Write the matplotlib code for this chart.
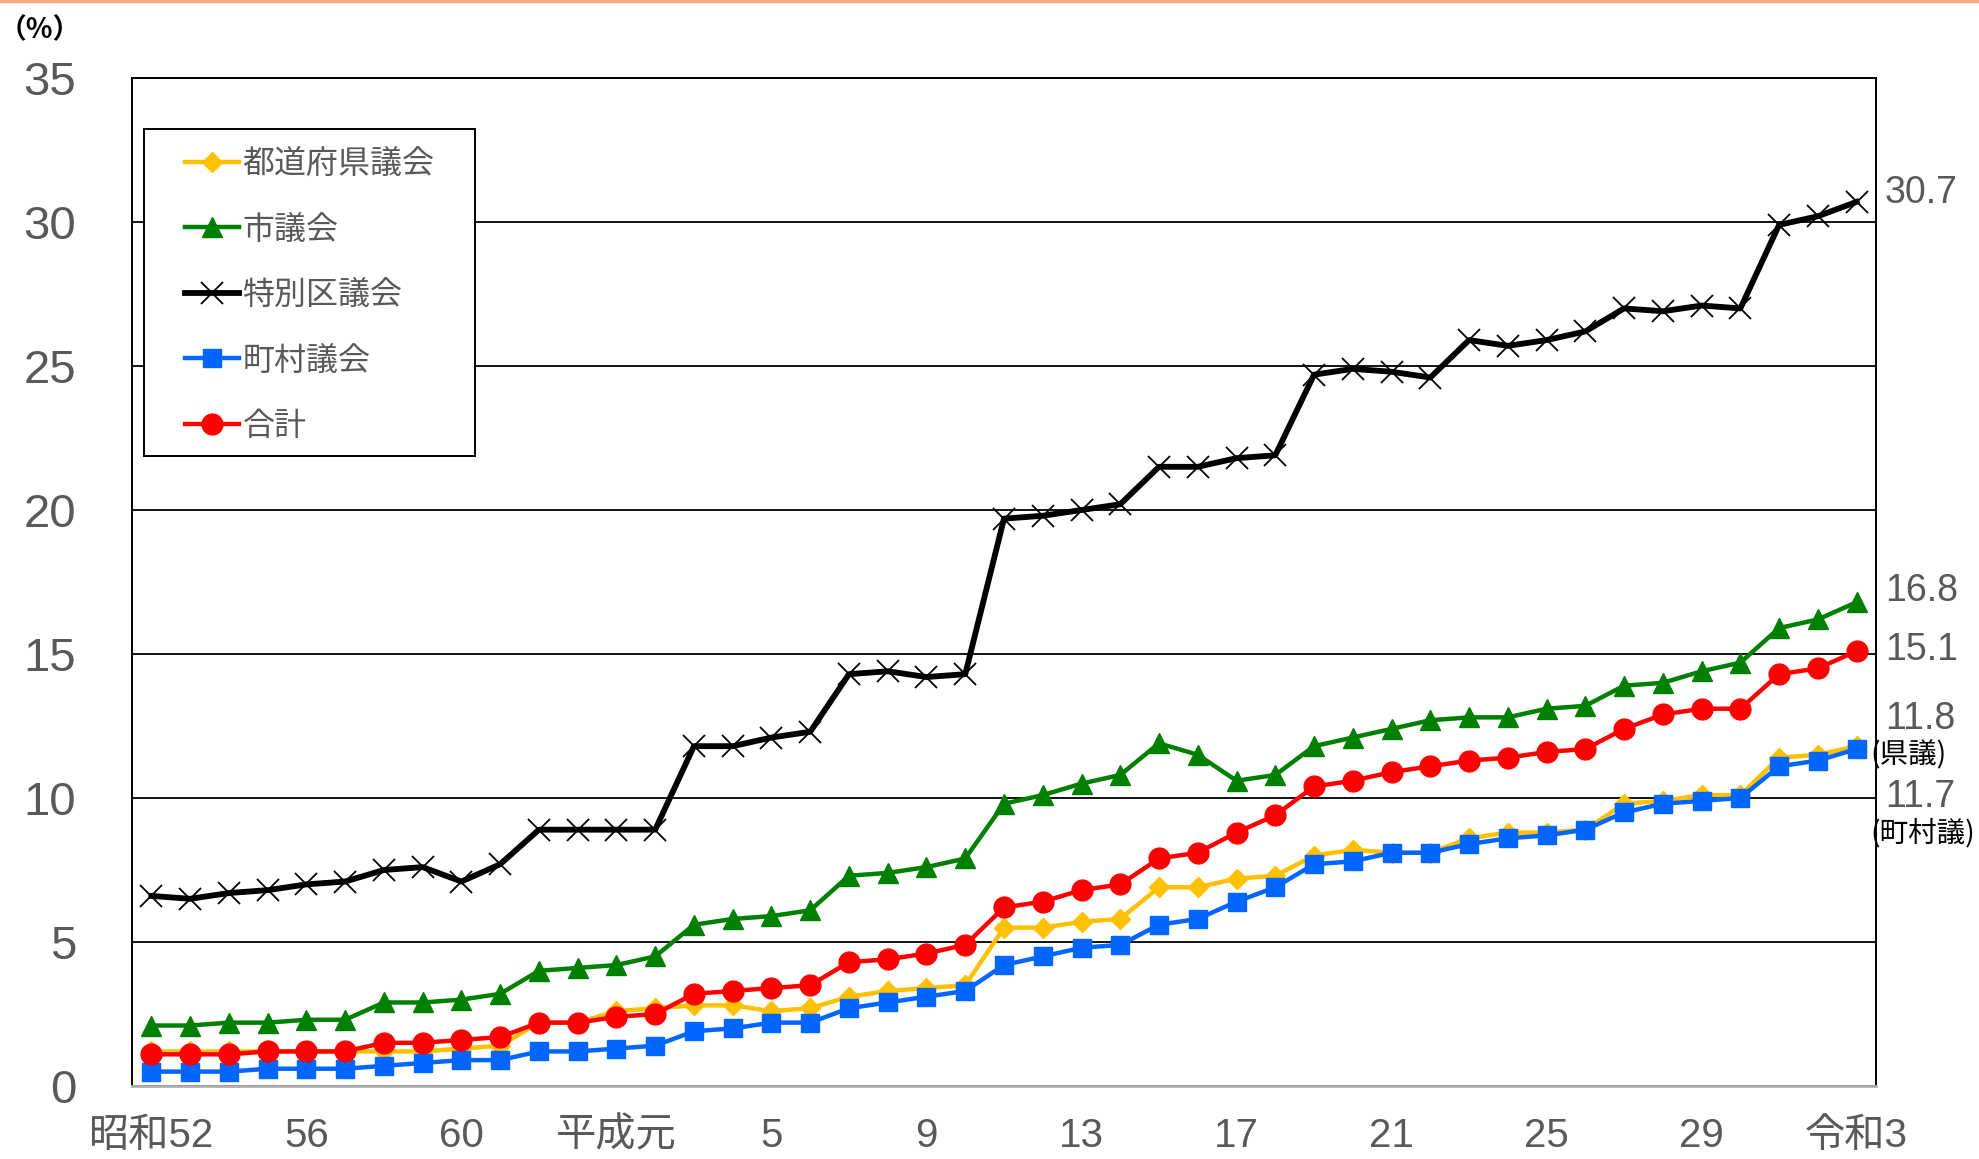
import matplotlib
matplotlib.use("Agg")
import matplotlib.pyplot as plt
from matplotlib.lines import Line2D
from matplotlib.patches import Rectangle

plt.rcParams['font.family'] = ['Liberation Sans', 'Noto Sans CJK JP', 'DejaVu Sans']

# ---- data ----
years = list(range(45))  # 昭和52 (1977) ... 令和3 (2021)
tick_pos = [0, 4, 8, 12, 16, 20, 24, 28, 32, 36, 40, 44]
tick_labels = ['昭和52', '56', '60', '平成元', '5', '9', '13', '17', '21', '25', '29', '令和3']

names = ['都道府県議会', '市議会', '特別区議会', '町村議会', '合計']

pref = [1.2, 1.2, 1.2, 1.2, 1.2, 1.2, 1.2, 1.2, 1.3, 1.4, 2.2, 2.2, 2.6, 2.7, 2.8,
        2.8, 2.6, 2.7, 3.1, 3.3, 3.4, 3.5, 5.5, 5.5, 5.7, 5.8, 6.9, 6.9, 7.2, 7.3,
        8.0, 8.2, 8.1, 8.1, 8.6, 8.8, 8.8, 8.9, 9.8, 9.9, 10.1, 10.1, 11.4, 11.5, 11.8]
city = [2.1, 2.1, 2.2, 2.2, 2.3, 2.3, 2.9, 2.9, 3.0, 3.2, 4.0, 4.1, 4.2, 4.5, 5.6,
        5.8, 5.9, 6.1, 7.3, 7.4, 7.6, 7.9, 9.8, 10.1, 10.5, 10.8, 11.9, 11.5, 10.6, 10.8,
        11.8, 12.1, 12.4, 12.7, 12.8, 12.8, 13.1, 13.2, 13.9, 14.0, 14.4, 14.7, 15.9, 16.2, 16.8]
ward = [6.6, 6.5, 6.7, 6.8, 7.0, 7.1, 7.5, 7.6, 7.1, 7.7, 8.9, 8.9, 8.9, 8.9, 11.8,
        11.8, 12.1, 12.3, 14.3, 14.4, 14.2, 14.3, 19.7, 19.8, 20.0, 20.2, 21.5, 21.5, 21.8, 21.9,
        24.7, 24.9, 24.8, 24.6, 25.9, 25.7, 25.9, 26.2, 27.0, 26.9, 27.1, 27.0, 29.9, 30.2, 30.7]
town = [0.5, 0.5, 0.5, 0.6, 0.6, 0.6, 0.7, 0.8, 0.9, 0.9, 1.2, 1.2, 1.3, 1.4, 1.9,
        2.0, 2.2, 2.2, 2.7, 2.9, 3.1, 3.3, 4.2, 4.5, 4.8, 4.9, 5.6, 5.8, 6.4, 6.9,
        7.7, 7.8, 8.1, 8.1, 8.4, 8.6, 8.7, 8.9, 9.5, 9.8, 9.9, 10.0, 11.1, 11.3, 11.7]
total = [1.1, 1.1, 1.1, 1.2, 1.2, 1.2, 1.5, 1.5, 1.6, 1.7, 2.2, 2.2, 2.4, 2.5, 3.2,
         3.3, 3.4, 3.5, 4.3, 4.4, 4.6, 4.9, 6.2, 6.4, 6.8, 7.0, 7.9, 8.1, 8.8, 9.4,
         10.4, 10.6, 10.9, 11.1, 11.3, 11.4, 11.6, 11.7, 12.4, 12.9, 13.1, 13.1, 14.3, 14.5, 15.1]

end_labels = ['30.7', '16.8', '15.1', '11.8', '11.7']
end_label_y = [31.0, 17.2, 15.14, 12.74, 10.03]
sub_labels = ['(県議)', '(町村議)']
sub_label_y = [11.49, 8.78]

# ---- figure ----
W, H = 1979, 1159
fig = plt.figure(figsize=(W / 100, H / 100), dpi=100)
ax = fig.add_axes([132 / W, 1 - 1086 / H, (1876 - 132) / W, (1086 - 78) / H])

gray = '#595959'
ax.plot(years, pref, color='#FFC000', lw=3.2, marker='D', ms=10, mec='#FFC000', zorder=3)
ax.plot(years, city, color='#008000', lw=3.2, marker='^', ms=15, mec='#008000', zorder=4)
ax.plot(years, ward, color='black', lw=4.2, marker='x', ms=16, mew=1.3, zorder=5)
ax.plot(years, town, color='#0066FF', lw=3.2, marker='s', ms=13, mec='#0066FF', zorder=6)
ax.plot(years, total, color='#FF0000', lw=3.2, marker='o', ms=15, mec='#FF0000', zorder=7)

ax.set_xlim(-0.5, 44.5)
ax.set_ylim(0, 35)
ax.set_yticks(range(0, 36, 5))
ax.set_xticks(tick_pos)
ax.set_xticklabels(tick_labels)
ax.tick_params(axis='y', length=0, pad=40, labelsize=34, labelcolor=gray)
ax.tick_params(axis='x', length=0, pad=22, labelsize=29, labelcolor=gray)
ax.grid(axis='y', color='black', lw=1.3, zorder=1)
ax.set_axisbelow(True)
for s in ['left', 'right', 'top']:
    ax.spines[s].set_color('black')
    ax.spines[s].set_linewidth(1.4)
ax.spines['bottom'].set_color('#B0B0B0')
ax.spines['bottom'].set_linewidth(2)

# right-side value labels
for lab, yv in zip(end_labels, end_label_y):
    ax.text(44.73, yv, lab, fontsize=27, color=gray, ha='left', va='center', clip_on=False)
for lab, yv in zip(sub_labels, sub_label_y):
    ax.text(44.35, yv, lab, fontsize=20.5, color='black', ha='left', va='center', clip_on=False,
            family=['Noto Sans CJK JP'])

# legend
handles = [
    Line2D([], [], color='#FFC000', lw=3.2, marker='D', ms=10),
    Line2D([], [], color='#008000', lw=3.2, marker='^', ms=15),
    Line2D([], [], color='black', lw=4.2, marker='x', ms=16, mew=1.3),
    Line2D([], [], color='#0066FF', lw=3.2, marker='s', ms=13),
    Line2D([], [], color='#FF0000', lw=3.2, marker='o', ms=15),
]
leg = ax.legend(handles, names, loc='upper left', frameon=False,
                bbox_to_anchor=((185 - 132) / 1744, (1086 - 148) / 1008),
                borderpad=0, borderaxespad=0, handlelength=1.7, handletextpad=0.1,
                labelspacing=1.05, prop={'family': 'Noto Sans CJK JP', 'size': 23})
for t in leg.get_texts():
    t.set_color(gray)
rect = Rectangle(((144 - 132) / 1744, (1086 - 456) / 1008), (475 - 144) / 1744, (456 - 129) / 1008,
                 transform=ax.transAxes, fill=True, facecolor='white', edgecolor='black', lw=1.4, zorder=8)
ax.add_patch(rect)
leg.set_zorder(9)

# unit label
fig.text(40 / W, 1 - 30 / H, '（%）', fontsize=20, color='black', ha='center', va='center',
         fontweight='bold', family=['Noto Sans CJK JP'])

# top orange rule
fig.add_artist(Line2D([0, 1], [1 - 1 / H, 1 - 1 / H], color='#F8A878', lw=2.5, transform=fig.transFigure))

fig.savefig('out.png', dpi=100)
